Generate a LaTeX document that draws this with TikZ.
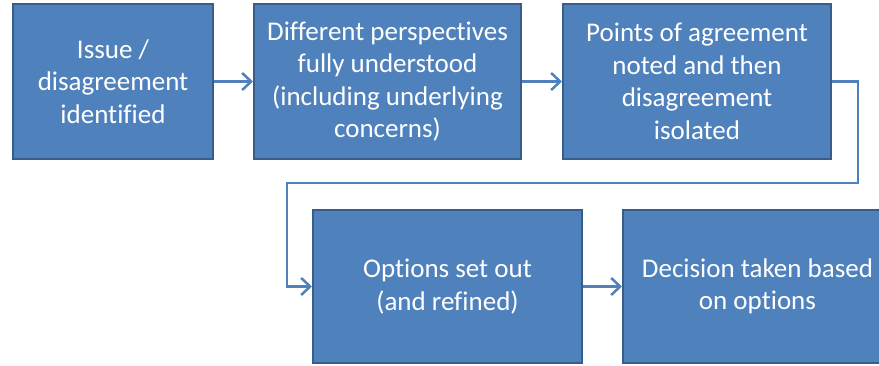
\documentclass[tikz,border=0pt]{standalone}
\usepackage{fontspec}
\setmainfont[Ligatures=CommonOff]{Carlito}
\usetikzlibrary{arrows.meta}
\definecolor{boxfill}{HTML}{4F81BD}
\definecolor{boxline}{HTML}{385D8A}
\begin{document}
\begin{tikzpicture}[x=1pt,y=-1pt,
  stepbox/.style={draw=boxline,fill=boxfill,line width=2pt,text=white,
    align=center,inner sep=0pt,minimum height=155pt,
    font=\fontsize{27pt}{32.5pt}\selectfont},
  conn/.style={draw=boxfill,line width=2.5pt,
    -{Straight Barb[length=9pt,width=17pt,line width=2.5pt]}}]
\useasboundingbox (0,0) rectangle (879,365);
\clip (0,0) rectangle (879,365);
\node[stepbox,minimum width=200pt] (b1) at (113,81.5) {Issue /\\disagreement\\identified};
\node[stepbox,minimum width=267pt] (b2) at (387.5,81.5) {Different perspectives\\fully understood\\(including underlying\\concerns)};
\node[stepbox,minimum width=268pt] (b3) at (697,81.5) {Points of agreement\\noted and then\\disagreement\\isolated};
\node[stepbox,minimum width=269pt,minimum height=153pt] (b4) at (447.5,286.5) {Options set out\\(and refined)};
\node[stepbox,minimum width=269pt,minimum height=153pt] (b5) at (757.5,286.5) {Decision taken based\\on options};
\coordinate (r1) at (858,81.5);
\coordinate (r2) at (858,183);
\coordinate (r3) at (287,183);
\coordinate (r4) at (287,286.5);
\draw[conn] (b1.east) -- (b2.west);
\draw[conn] (b2.east) -- (b3.west);
\draw[conn] (b3.east) -- (r1) -- (r2) -- (r3) -- (r4) -- (b4.west);
\draw[conn] (b4.east) -- (b5.west);
\end{tikzpicture}
\end{document}
